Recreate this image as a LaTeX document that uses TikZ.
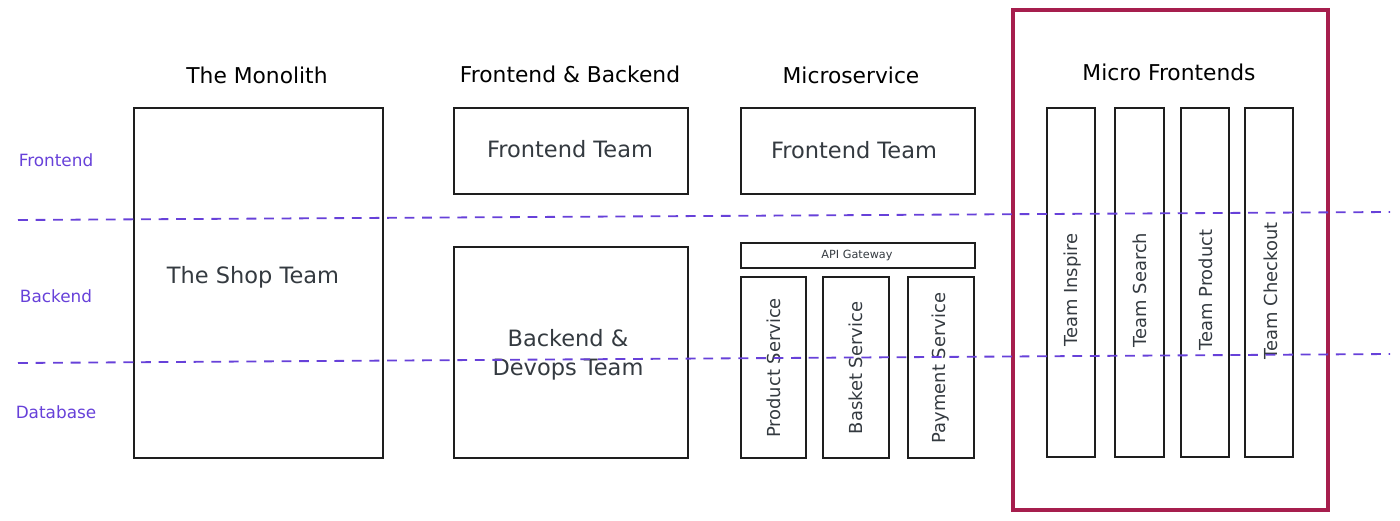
\documentclass[tikz,border=0pt]{standalone}
\usepackage{fontspec}
\setmainfont{DejaVu Sans}
\usetikzlibrary{positioning}
\definecolor{violetline}{HTML}{6741D9}
\definecolor{frame}{HTML}{A61E4D}
\definecolor{ink}{HTML}{1E1E1E}
\definecolor{bodyink}{HTML}{343A40}
\begin{document}
\begin{tikzpicture}[x=0.05cm,y=-0.05cm,
  bx/.style 2 args={draw=ink, line width=2pt, minimum width={#1*0.05cm}, minimum height={#2*0.05cm}, inner sep=0pt},
  title/.style={text=black, font=\fontsize{31}{36}\selectfont, inner sep=0pt},
  body/.style={text=bodyink, font=\fontsize{32}{41}\selectfont, inner sep=0pt, align=center},
  vtext/.style={text=bodyink, font=\fontsize{25.5}{30}\selectfont, inner sep=0pt, rotate=90},
  layer/.style={text=violetline, font=\fontsize{24}{28}\selectfont, inner sep=0pt},
  divider/.style={draw=violetline, line width=2.6pt, dash pattern=on 14pt off 11pt},
  mfframe/.style={draw=frame, line width=5.5pt, minimum width={#1*0.05cm}, inner sep=0pt}
]
\useasboundingbox (0,0) rectangle (1400,521);

% layer labels
\node[layer] (lf) at (56,160) {Frontend};
\node[layer] (lb) at (56,296) {Backend};
\node[layer] (ld) at (56,412) {Database};

% Monolith
\node[title] (t1) at (257,75) {The Monolith};
\node[bx={249}{350}] (mono) at (258.5,283) {};
\node[body] (monot) at (253,277) {The Shop Team};

% Frontend & Backend
\node[title] (t2) at (570,74) {Frontend \& Backend};
\node[bx={234}{86}] (fe1) at (571,151) {};
\node[body] (fe1t) at (570,149) {Frontend Team};
\node[bx={234}{211}] (be1) at (571,352.5) {};
\node[body] (be1t) at (568,355) {Backend \&\\Devops Team};

% Microservice
\node[title] (t3) at (851,75) {Microservice};
\node[bx={234}{86}] (fe2) at (858,151) {};
\node[body] (fe2t) at (854,150) {Frontend Team};
\node[bx={234}{25}] (api) at (858,255.5) {};
\node[text=bodyink, font=\fontsize{16}{18}\selectfont, inner sep=0pt] (apit) at (857,255) {API Gateway};
\node[bx={65}{181}] (ps) at (773.5,367.5) {};
\node[vtext] (pst) at (773.5,368) {Product Service};
\node[bx={66}{181}] (bs) at (856,367.5) {};
\node[vtext] (bst) at (856,368) {Basket Service};
\node[bx={66}{181}] (pay) at (941,367.5) {};
\node[vtext] (payt) at (941,368) {Payment Service};

% Micro Frontends
\node[mfframe={315}, minimum height={500*0.05cm}] (mf) at (1170.5,260) {};
\node[title] (t4) at (1169,72) {Micro Frontends};
\node[bx={48}{349}] (ti) at (1071,282.5) {};
\node[vtext] (tit) at (1073,290) {Team Inspire};
\node[bx={49}{349}] (ts) at (1139.5,282.5) {};
\node[vtext] (tst) at (1140,290) {Team Search};
\node[bx={48}{349}] (tp) at (1205,282.5) {};
\node[vtext] (tpt) at (1206,290) {Team Product};
\node[bx={48}{349}] (tc) at (1269,282.5) {};
\node[vtext] (tct) at (1271,291) {Team Checkout};

% dividers
\coordinate (d1l) at (18,220);
\coordinate (d1r) at (1390,212);
\coordinate (d2l) at (18,363);
\coordinate (d2r) at (1390,354);
\draw[divider] (d1l) -- (d1r);
\draw[divider] (d2l) -- (d2r);
\end{tikzpicture}
\end{document}
